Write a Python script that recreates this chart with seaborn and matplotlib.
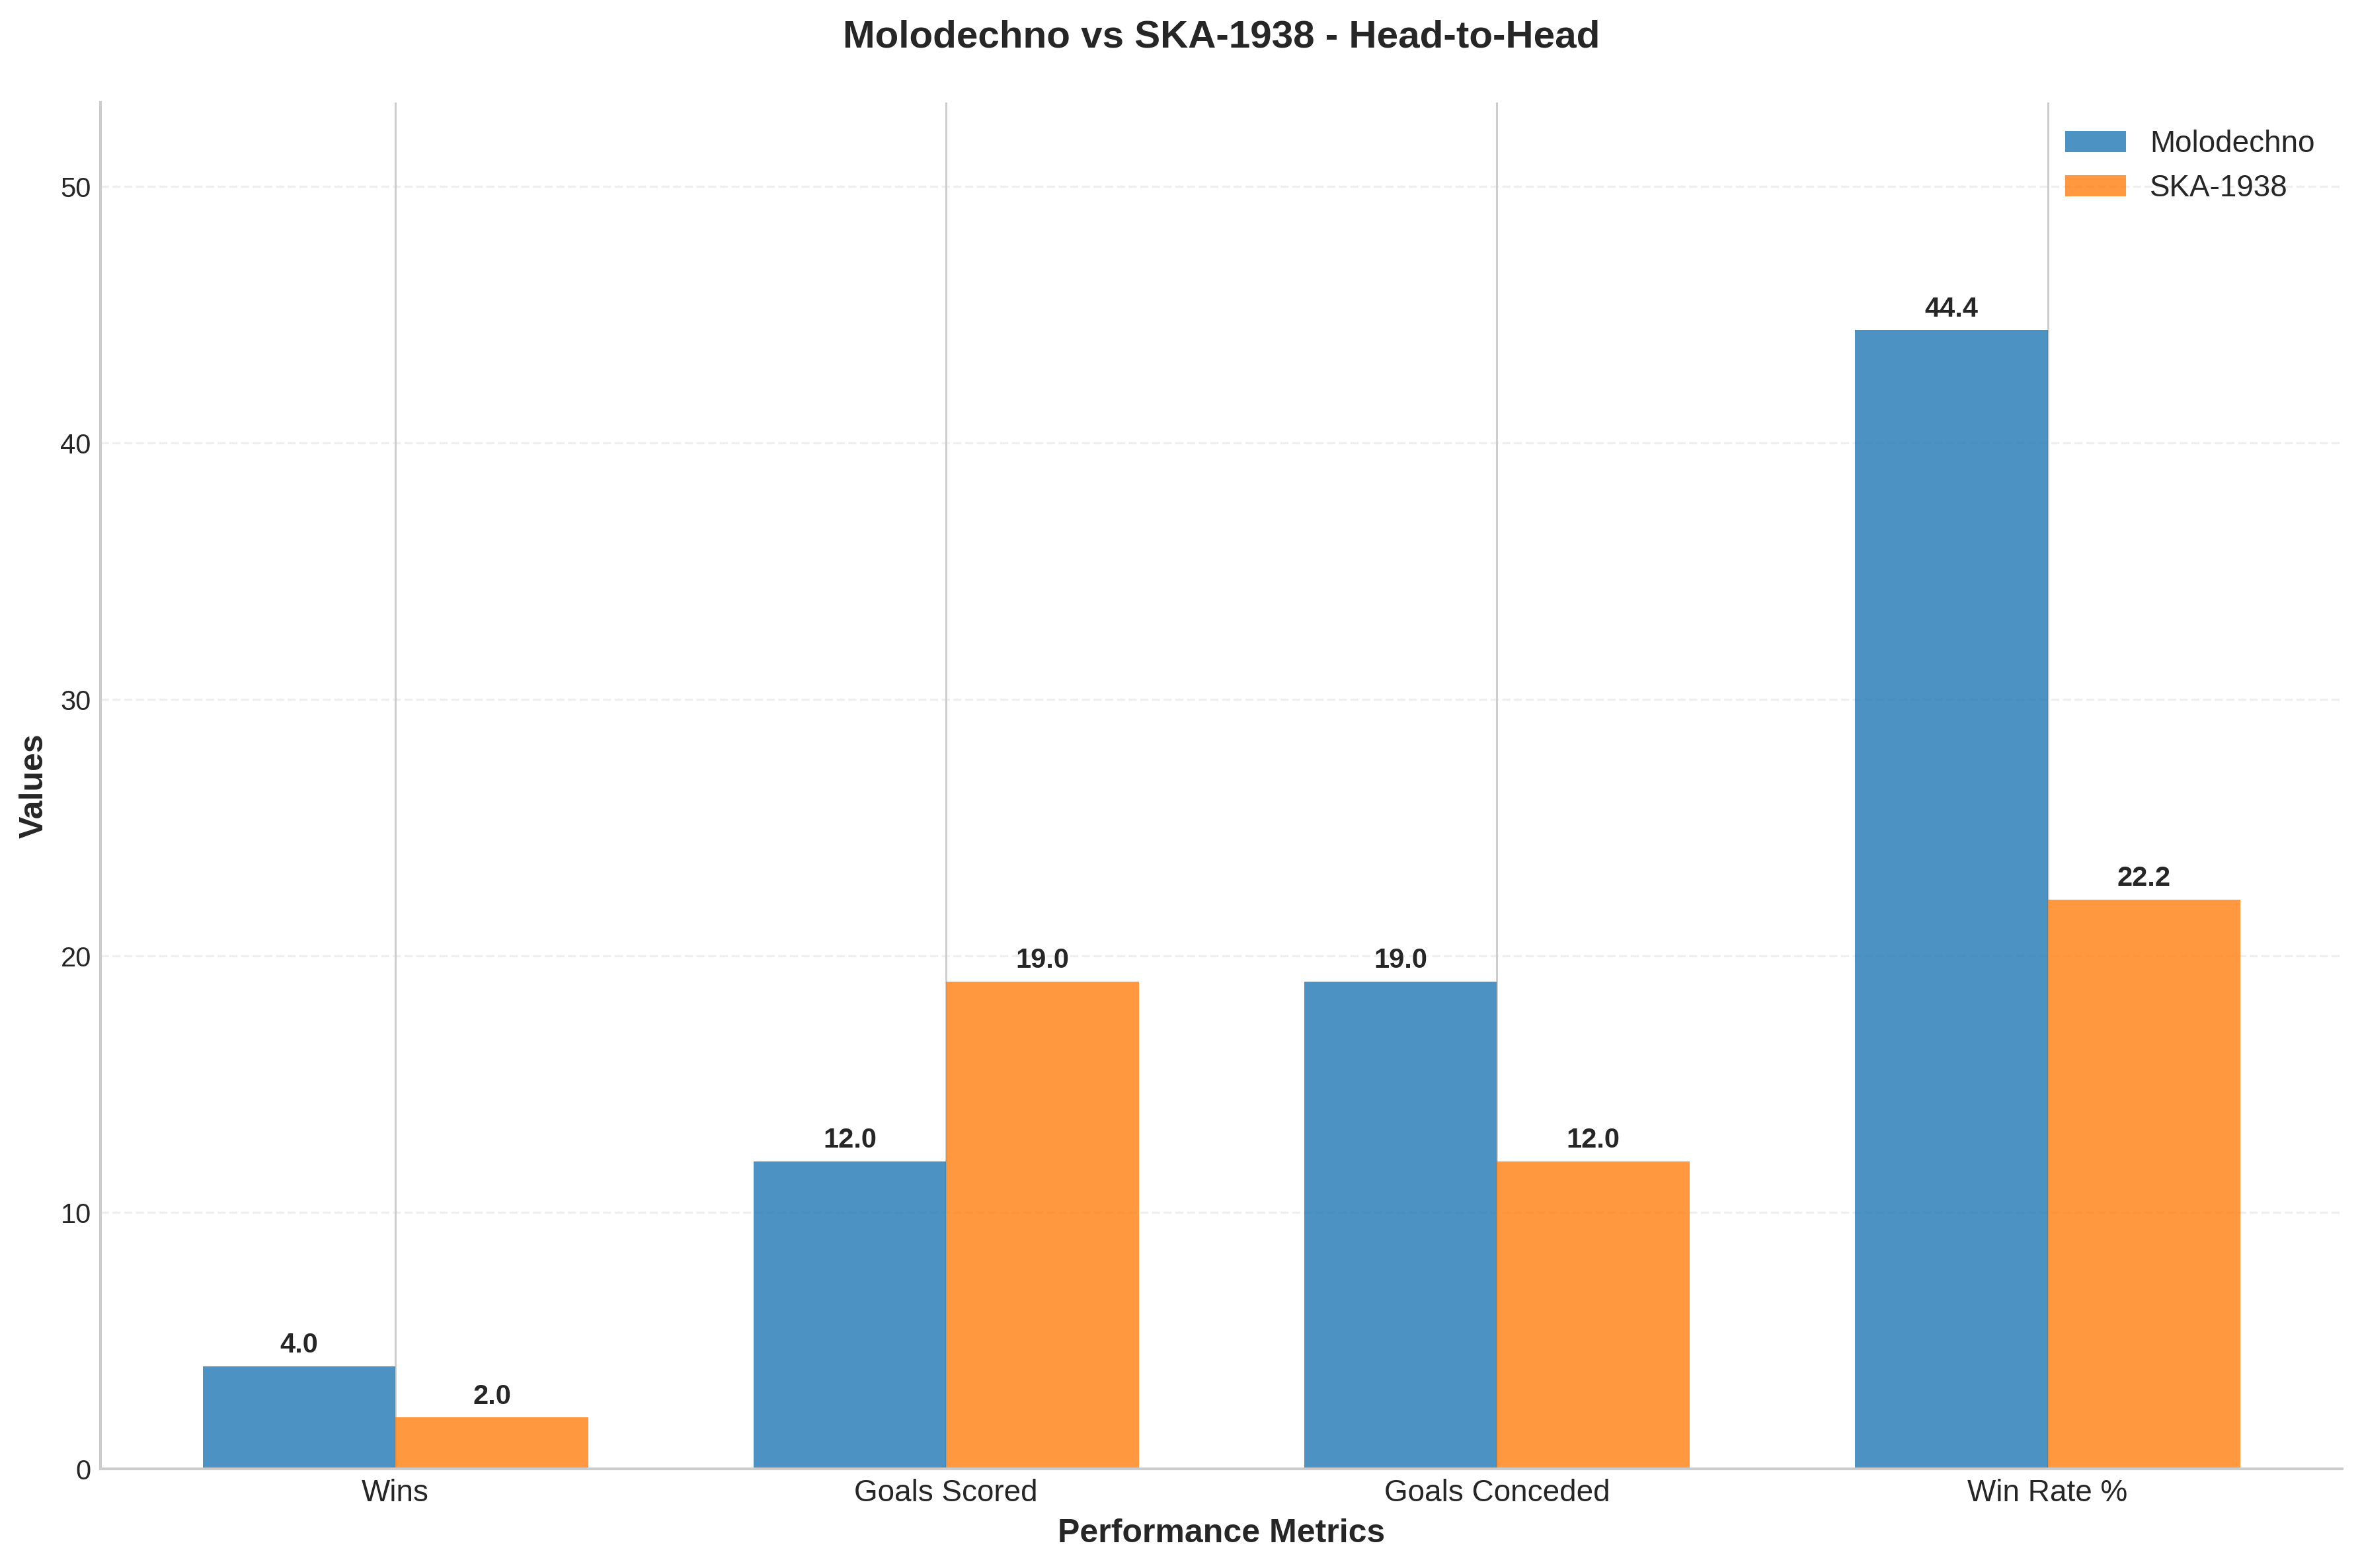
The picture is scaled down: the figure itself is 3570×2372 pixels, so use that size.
import matplotlib
matplotlib.use("Agg")
import matplotlib.pyplot as plt
import seaborn as sns
import pandas as pd

metrics = ["Wins", "Goals Scored", "Goals Conceded", "Win Rate %"]
teams = ["Molodechno", "SKA-1938"]
molodechno_values = [4.0, 12.0, 19.0, 44.4]
ska_values = [2.0, 19.0, 12.0, 22.2]
team_colors = ["#1f77b4", "#ff7f0e"]

sns.set_style("whitegrid")
plt.rcParams["font.family"] = ["Liberation Sans", "DejaVu Sans"]

df = pd.DataFrame({
    "Metric": metrics * 2,
    "Team": [teams[0]] * len(metrics) + [teams[1]] * len(metrics),
    "Value": molodechno_values + ska_values,
})

fig = plt.figure(figsize=(11.9, 7.9067), dpi=300)
ax = fig.add_axes([0.0427, 0.0632, 0.9498, 0.8715])

sns.barplot(data=df, x="Metric", y="Value", hue="Team", order=metrics,
            hue_order=teams, palette=team_colors, width=0.7, gap=0,
            saturation=1, alpha=0.8, errorbar=None, ax=ax, linewidth=0)

for container in ax.containers:
    for bar in container:
        h = bar.get_height()
        ax.text(bar.get_x() + bar.get_width() / 2, h + 0.3, f"{h:.1f}",
                ha="center", va="bottom", fontsize=10, fontweight="bold",
                color="#262626")

ax.set_xlim(-0.535, 3.535)
ax.set_ylim(0, max(molodechno_values + ska_values) * 1.2)

ax.set_title("Molodechno vs SKA-1938 - Head-to-Head", fontsize=14,
             fontweight="bold", pad=20)
ax.set_xlabel("Performance Metrics", fontsize=12, fontweight="bold")
ax.set_ylabel("Values", fontsize=12, fontweight="bold")
ax.tick_params(axis="x", labelsize=11, length=0)
ax.tick_params(axis="y", labelsize=10, length=0)

ax.set_axisbelow(True)
ax.xaxis.grid(True, color="#cccccc", linewidth=0.7, linestyle="-")
ax.yaxis.grid(True, linestyle="--", alpha=0.3, color="#cccccc", linewidth=0.8)

for side in ["top", "right"]:
    ax.spines[side].set_visible(False)
for side in ["left", "bottom"]:
    ax.spines[side].set_color("#cccccc")
    ax.spines[side].set_linewidth(1.0)

ax.legend(loc="upper right", fontsize=11, frameon=False)

fig.savefig("out.png", dpi=300)
